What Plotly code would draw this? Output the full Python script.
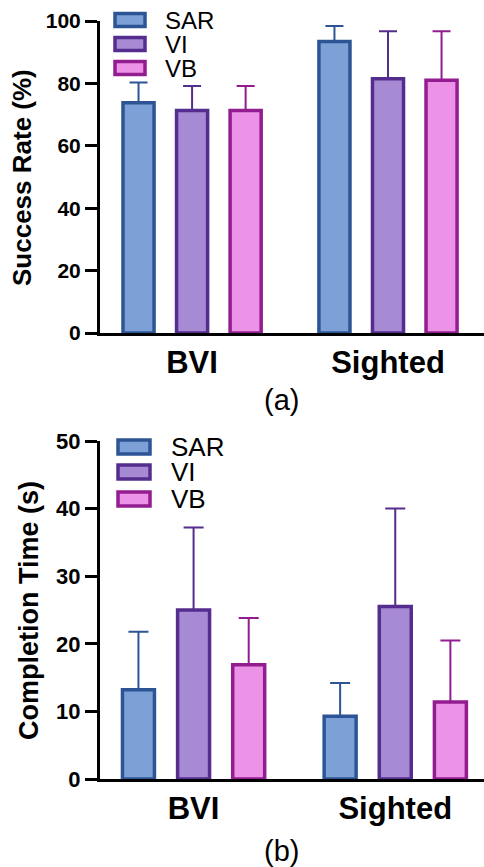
import plotly.graph_objects as go

W, H = 484, 867

groups = ["BVI", "Sighted"]
series = ["SAR", "VI", "VB"]

# (a) Success Rate (%)
success_mean = {"SAR": [73.8, 93.4], "VI": [71.3, 81.5], "VB": [71.3, 81.0]}
success_err = {"SAR": [6.5, 5.0], "VI": [7.9, 15.2], "VB": [7.9, 15.7]}

# (b) Completion Time (s)
time_mean = {"SAR": [13.2, 9.3], "VI": [25.0, 25.5], "VB": [16.9, 11.4]}
time_err = {"SAR": [8.6, 4.9], "VI": [12.2, 14.5], "VB": [6.9, 9.1]}

fills = {"SAR": "#7DA1D6", "VI": "#A68AD3", "VB": "#EC93E7"}
borders = {"SAR": "#2D5595", "VI": "#552D8E", "VB": "#931C90"}

FONT = "Arial, Liberation Sans, sans-serif"

fig = go.Figure()

for s in series:
    fig.add_trace(go.Bar(
        x=groups, y=success_mean[s], name=s, xaxis="x", yaxis="y",
        marker=dict(color=fills[s], line=dict(color=borders[s], width=3.5)),
        error_y=dict(type="data", array=success_err[s], arrayminus=[0, 0],
                     symmetric=False, color=borders[s], thickness=2, width=9),
        showlegend=False,
    ))
for s in series:
    fig.add_trace(go.Bar(
        x=groups, y=time_mean[s], name=s, xaxis="x2", yaxis="y2",
        marker=dict(color=fills[s], line=dict(color=borders[s], width=3.5)),
        error_y=dict(type="data", array=time_err[s], arrayminus=[0, 0],
                     symmetric=False, color=borders[s], thickness=2, width=10),
        showlegend=False,
    ))

def px_y(py):
    return 1 - py / H

def px_x(px):
    return px / W

xdom = [px_x(100), 1.0]
ydom1 = [px_y(333), px_y(21)]
ydom2 = [px_y(779), px_y(441)]

xaxis_common = dict(
    type="category", showline=True, linewidth=3, linecolor="black",
    ticks="", showgrid=False, zeroline=False, automargin=False,
    tickfont=dict(family=FONT, size=31, color="black", weight="bold"),
    domain=xdom, fixedrange=True,
)
yaxis_common = dict(
    showline=True, linewidth=3, linecolor="black", ticks="outside",
    ticklen=12, tickwidth=3, tickcolor="black", showgrid=False,
    zeroline=False, fixedrange=True, automargin=False,
)

fig.update_layout(
    width=W, height=H, autosize=False,
    margin=dict(l=0, r=0, t=0, b=0, pad=0, autoexpand=False),
    paper_bgcolor="white", plot_bgcolor="white",
    barmode="group", bargap=0.18, bargroupgap=0.42,
    xaxis=dict(**xaxis_common, anchor="y", range=[-0.47, 1.49]),
    yaxis=dict(**yaxis_common, anchor="x", domain=ydom1, range=[0, 100],
               dtick=20, tickfont=dict(family=FONT, size=21, color="black", weight="bold")),
    xaxis2=dict(**xaxis_common, anchor="y2", range=[-0.464, 1.44]),
    yaxis2=dict(**yaxis_common, anchor="x2", domain=ydom2, range=[0, 50],
                dtick=10, tickfont=dict(family=FONT, size=22, color="black", weight="bold")),
    showlegend=False,
)

annotations = [
    dict(text="Success Rate (%)", x=px_x(22), y=px_y(178), textangle=-90,
         font=dict(family=FONT, size=26, color="black", weight="bold")),
    dict(text="Completion Time (s)", x=px_x(29), y=px_y(611), textangle=-90,
         font=dict(family=FONT, size=27, color="black", weight="bold")),
    dict(text="(a)", x=px_x(281), y=px_y(400),
         font=dict(family=FONT, size=29, color="black")),
    dict(text="(b)", x=px_x(281), y=px_y(851),
         font=dict(family=FONT, size=29, color="black")),
]

# Legends (drawn as key boxes + labels)
shapes = []
leg_specs = [
    # (x0, x1, row centers, box half-height, text x, font size)
    (115, 145, [20, 44, 68], 6.5, 164, 24),
    (118, 150, [447, 472, 499], 7, 170, 26),
]
for x0, x1, rows, hh, tx, fs in leg_specs:
    for s, cy in zip(series, rows):
        shapes.append(dict(type="rect", xref="paper", yref="paper",
                           x0=px_x(x0), x1=px_x(x1), y0=px_y(cy + hh), y1=px_y(cy - hh),
                           fillcolor=fills[s], line=dict(color=borders[s], width=3.5)))
        annotations.append(dict(text=s, x=px_x(tx), y=px_y(cy), xanchor="left",
                                height=fs - 4, borderpad=0,
                                font=dict(family=FONT, size=fs, color="black")))

for a in annotations:
    a.setdefault("xref", "paper")
    a.setdefault("yref", "paper")
    a.setdefault("showarrow", False)
    a.setdefault("xanchor", "center")
    a.setdefault("yanchor", "middle")

fig.update_layout(annotations=annotations, shapes=shapes)

fig.write_html(
    "out.html",
    config={"displayModeBar": False},
    post_script="document.body.style.margin='0';document.body.style.overflow='hidden';",
)
